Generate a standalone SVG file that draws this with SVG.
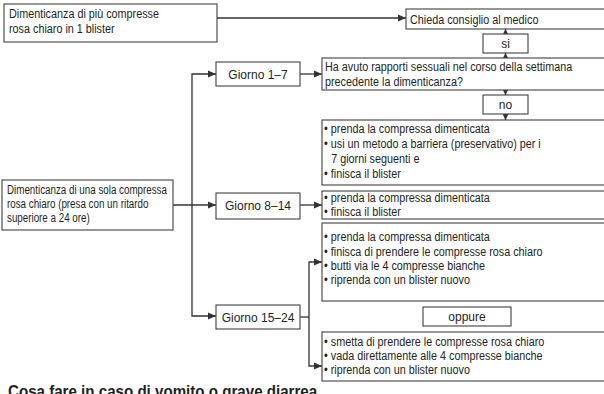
<svg xmlns="http://www.w3.org/2000/svg" width="604" height="394" viewBox="0 0 604 394">
<defs>
<style>
.box{fill:#fff;stroke:#404040;stroke-width:1.1}
.t{font-family:"Liberation Sans",Arial,sans-serif;font-size:13.5px;fill:#231f20}
.g{font-family:"Liberation Sans",Arial,sans-serif;font-size:12px;fill:#231f20;text-anchor:middle}
.c{fill:none;stroke:#333;stroke-width:1.3}
.h{font-family:"Liberation Sans",Arial,sans-serif;font-size:17px;font-weight:bold;fill:#231f20}
</style>
<marker id="arr" markerUnits="userSpaceOnUse" markerWidth="8" markerHeight="8" viewBox="0 0 8 8" refX="8" refY="4" orient="auto"><path d="M0,0.5 L8,4 L0,7.5 z" fill="#333"/></marker>
<marker id="arrS" markerUnits="userSpaceOnUse" markerWidth="6" markerHeight="6" viewBox="0 0 6 6" refX="6" refY="3" orient="auto"><path d="M0,0 L6,3 L0,6 z" fill="#333"/></marker>
</defs>
<rect width="604" height="394" fill="#fff"/>

<g id="connectors">
<path class="c" d="M217,18 H406" marker-end="url(#arr)"/>
<path class="c" d="M505.5,34 V29" marker-end="url(#arrS)"/>
<path class="c" d="M505.5,58 V53" marker-end="url(#arrS)"/>
<path class="c" d="M505.5,90 V95" marker-end="url(#arrS)"/>
<path class="c" d="M505.5,114 V120" marker-end="url(#arrS)"/>
<path class="c" d="M192,205 V74 H216" marker-end="url(#arr)"/>
<path class="c" d="M192,205 V316 H216" marker-end="url(#arr)"/>
<path class="c" d="M173,205 H216" marker-end="url(#arr)"/>
<path class="c" d="M300,74 H322" marker-end="url(#arr)"/>
<path class="c" d="M300,205 H322" marker-end="url(#arr)"/>
<path class="c" d="M300,317 H309"/>
<path class="c" d="M309,317 V262 H322" marker-end="url(#arr)"/>
<path class="c" d="M309,317 V366 H322" marker-end="url(#arr)"/>
</g>

<g id="n-piu">
<rect class="box" x="4" y="4" width="213" height="38"/>
<g class="t" transform="translate(9 0) scale(0.8 1)">
<text x="0" y="18">Dimenticanza di più compresse</text>
<text x="0" y="33">rosa chiaro in 1 blister</text>
</g>
</g>
<g id="n-medico">
<rect class="box" x="406" y="9" width="204" height="20"/>
<g class="t" transform="translate(410 0) scale(0.8 1)">
<text x="0" y="24">Chieda consiglio al medico</text>
</g>
</g>
<g id="n-si">
<rect class="box" x="483" y="34" width="45" height="19"/>
<text class="g" x="505.5" y="48">si</text>
</g>
<g id="n-rapporti">
<rect class="box" x="322" y="58" width="288" height="32"/>
<g class="t" transform="translate(325 0) scale(0.8 1)">
<text x="0" y="71">Ha avuto rapporti sessuali nel corso della settimana</text>
<text x="0" y="86">precedente la dimenticanza?</text>
</g>
</g>
<g id="n-no">
<rect class="box" x="483" y="95" width="45" height="19"/>
<text class="g" x="505.5" y="109">no</text>
</g>
<g id="n-azione1">
<rect class="box" x="322" y="120" width="288" height="65"/>
<g class="t" transform="translate(324 0) scale(0.8 1)">
<text x="0" y="133">• prenda la compressa dimenticata</text>
<text x="0" y="148">• usi un metodo a barriera (preservativo) per i</text>
<text x="9" y="163">7 giorni seguenti e</text>
<text x="0" y="178">• finisca il blister</text>
</g>
</g>
<g id="n-sola">
<rect class="box" x="2" y="180" width="171" height="50"/>
<g class="t" transform="translate(7 0) scale(0.726 1)">
<text x="0" y="194">Dimenticanza di una sola compressa</text>
<text x="0" y="208">rosa chiaro (presa con un ritardo</text>
<text x="0" y="222">superiore a 24 ore)</text>
</g>
</g>
<g id="n-g1">
<rect class="box" x="216" y="62" width="84" height="24"/>
<text class="g" x="258" y="79">Giorno 1–7</text>
</g>
<g id="n-g8">
<rect class="box" x="216" y="193" width="84" height="26"/>
<text class="g" x="258" y="210">Giorno 8–14</text>
</g>
<g id="n-g15">
<rect class="box" x="216" y="305" width="84" height="24"/>
<text class="g" x="258" y="322">Giorno 15–24</text>
</g>
<g id="n-azione2">
<rect class="box" x="322" y="191" width="288" height="28"/>
<g class="t" transform="translate(324 0) scale(0.8 1)">
<text x="0" y="202">• prenda la compressa dimenticata</text>
<text x="0" y="216">• finisca il blister</text>
</g>
</g>
<g id="n-azione3">
<rect class="box" x="322" y="223" width="288" height="78"/>
<g class="t" transform="translate(324 0) scale(0.8 1)">
<text x="0" y="241">• prenda la compressa dimenticata</text>
<text x="0" y="256">• finisca di prendere le compresse rosa chiaro</text>
<text x="0" y="270">• butti via le 4 compresse bianche</text>
<text x="0" y="284">• riprenda con un blister nuovo</text>
</g>
</g>
<g id="n-oppure">
<rect class="box" x="423" y="307" width="88" height="19"/>
<text class="g" x="467" y="321">oppure</text>
</g>
<g id="n-azione4">
<rect class="box" x="322" y="332" width="288" height="49"/>
<g class="t" transform="translate(324 0) scale(0.8 1)">
<text x="0" y="346">• smetta di prendere le compresse rosa chiaro</text>
<text x="0" y="360">• vada direttamente alle 4 compresse bianche</text>
<text x="0" y="374">• riprenda con un blister nuovo</text>
</g>
</g>
<g class="h" transform="translate(8 0) scale(0.89 1)">
<text x="0" y="397">Cosa fare in caso di vomito o grave diarrea</text>
</g>
</svg>
